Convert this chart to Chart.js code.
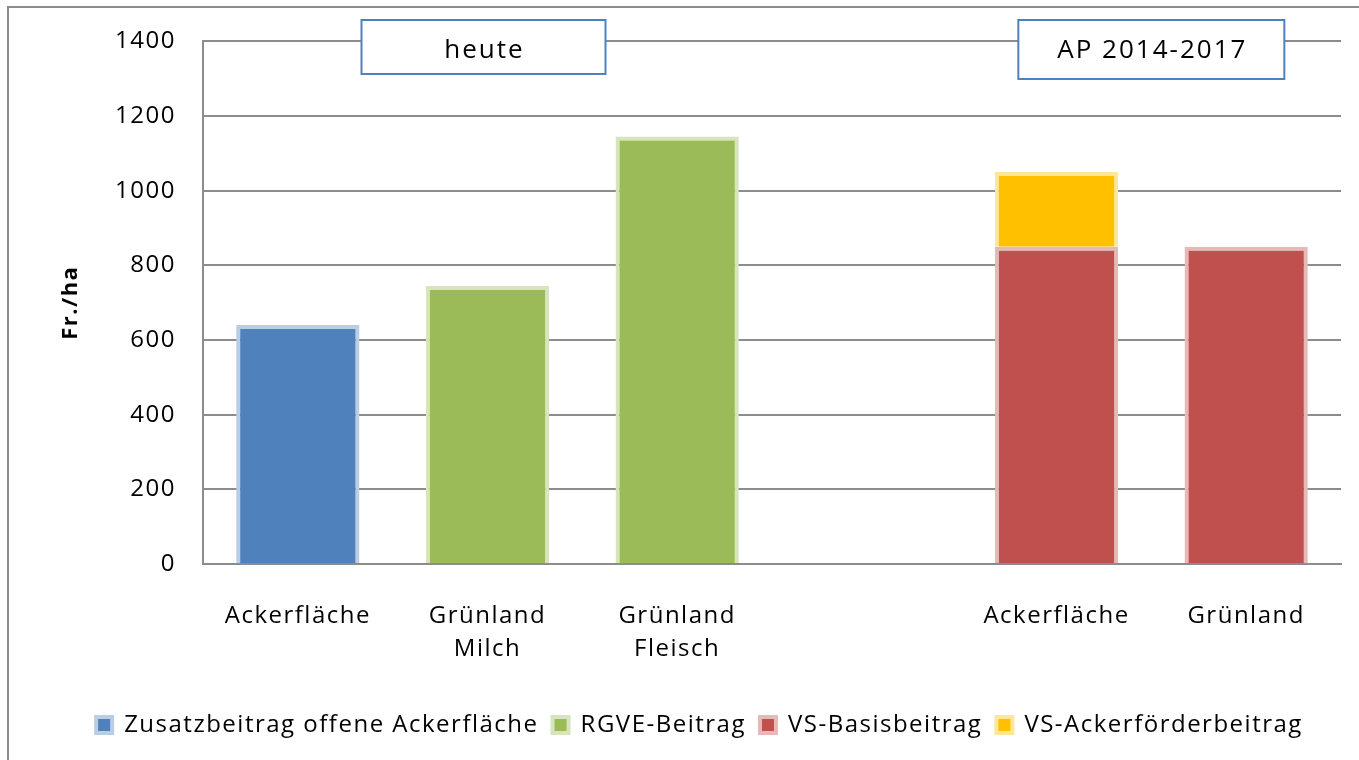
<!DOCTYPE html>
<html>
<head>
<meta charset="utf-8">
<script src="https://cdn.jsdelivr.net/npm/chart.js@4"></script>
<style>
  body { margin: 0; background: #fff; }
  #wrap { width: 1359px; height: 760px; }
</style>
</head>
<body>
<div id="wrap"><canvas id="chart" width="1359" height="760"></canvas></div>
<script>
// categories (empty slot separates the two groups)
const categories = ["Ackerfläche", ["Grünland", "Milch"], ["Grünland", "Fleisch"], "", "Ackerfläche", "Grünland"];
const zusatz = [640, null, null, null, null, null];
const rgve = [null, 745, 1145, null, null, null];
const vsBasis = [null, null, null, null, 850, 850];
const vsAcker = [null, null, null, null, 200, null];
const groupLabels = ["heute", "AP 2014-2017"];

const FONT = "'Open Sans', sans-serif";

// wider letter spacing like the original office rendering
const spacing = {
    id: "spacing",
    beforeUpdate: function(chart) { chart.ctx.letterSpacing = "1.5px"; },
    beforeDraw: function(chart) { chart.ctx.letterSpacing = "1.5px"; }
};

// text boxes and outer frame
const extras = {
    id: "extras",
    beforeDraw: function(chart) {
        const ctx = chart.ctx;
        ctx.save();
        ctx.strokeStyle = "#8c8c8c";
        ctx.lineWidth = 2;
        ctx.beginPath();
        ctx.moveTo(8, 760);
        ctx.lineTo(8, 7);
        ctx.lineTo(1359, 7);
        ctx.stroke();
        ctx.restore();
    },
    afterDraw: function(chart) {
        const ctx = chart.ctx;
        const x = chart.scales.x;
        const boxes = [
            { cx: x.getPixelForValue(1) - 4, w: 244, h: 54, text: groupLabels[0] },
            { cx: (x.getPixelForValue(4) + x.getPixelForValue(5)) / 2, w: 266, h: 59, text: groupLabels[1] }
        ];
        ctx.save();
        boxes.forEach(function(b) {
            const left = b.cx - b.w / 2;
            const top = 20;
            ctx.fillStyle = "#fff";
            ctx.fillRect(left, top, b.w, b.h);
            ctx.strokeStyle = "#4f81bd";
            ctx.lineWidth = 2;
            ctx.strokeRect(left, top, b.w, b.h);
            ctx.fillStyle = "#000";
            ctx.font = "26px " + FONT;
            ctx.letterSpacing = "2px";
            ctx.textAlign = "center";
            ctx.textBaseline = "middle";
            ctx.fillText(b.text, b.cx + 1, top + 31);
        });
        ctx.restore();
    }
};

new Chart("chart", {
    type: "bar",
    data: {
        labels: categories,
        datasets: [
            { label: "Zusatzbeitrag offene Ackerfläche", data: zusatz, backgroundColor: "#4f81bd", borderColor: "#b9cde5", borderWidth: 4 },
            { label: "RGVE-Beitrag", data: rgve, backgroundColor: "#9bbb59", borderColor: "#d7e4bd", borderWidth: 4 },
            { label: "VS-Basisbeitrag", data: vsBasis, backgroundColor: "#c0504d", borderColor: "#e6b9b8", borderWidth: 4 },
            { label: "VS-Ackerförderbeitrag", data: vsAcker, backgroundColor: "#ffc000", borderColor: "#ffe699", borderWidth: 4 }
        ]
    },
    options: {
        responsive: false,
        animation: false,
        layout: { padding: { left: 58, right: 18, top: 17, bottom: 13 } },
        datasets: { bar: { barPercentage: 0.65, categoryPercentage: 1 } },
        plugins: {
            tooltip: { enabled: false },
            legend: {
                position: "bottom",
                labels: { font: { family: FONT, size: 24 }, color: "#000", boxWidth: 16, boxHeight: 16, padding: 14 }
            }
        },
        scales: {
            x: {
                stacked: true,
                grid: { display: false },
                border: { color: "#8c8c8c", width: 2 },
                ticks: { font: { family: FONT, size: 24, lineHeight: 1.4 }, color: "#000", maxRotation: 0, padding: 27 },
                afterFit: function(s) { s.height = 135; }
            },
            y: {
                stacked: true,
                min: 0,
                max: 1400,
                ticks: {
                    stepSize: 200,
                    font: { family: FONT, size: 24 },
                    color: "#000",
                    padding: 27,
                    callback: function(v) { return String(v); }
                },
                grid: { color: "#8c8c8c", lineWidth: 2, drawTicks: false },
                border: { color: "#8c8c8c", width: 2 },
                title: { display: true, text: "Fr./ha", font: { family: FONT, size: 22, weight: "bold" }, color: "#000", padding: 0 },
                afterFit: function(s) { s.width = 145; }
            }
        }
    },
    plugins: [spacing, extras]
});
</script>
</body>
</html>
